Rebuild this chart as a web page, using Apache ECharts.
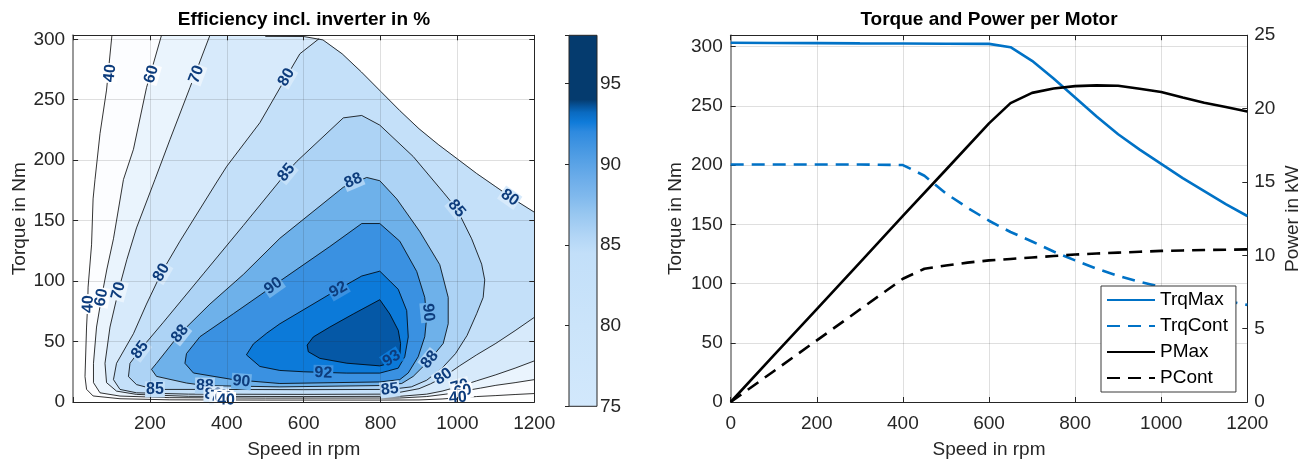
<!DOCTYPE html>
<html><head><meta charset="utf-8">
<script src="https://cdn.jsdelivr.net/npm/echarts@6/dist/echarts.min.js"></script>
<style>html,body{margin:0;padding:0;background:#fff}#c{width:1314px;height:464px}</style>
</head><body><div id="c"></div>
<script>
// ================= DATA =================
// Right chart: torque / power per motor
const speedEnv = [0,100,200,300,400,500,600,650,700,750,800,850,900,950,1000,1050,1100,1150,1200];
const trqMax   = [303.2,303.0,302.9,302.7,302.6,302.4,302.3,299.5,288,273,257,241,226,213,201,189,178,167,157];
const pMax     = [0,3.17,6.33,9.5,12.68,15.83,18.99,20.37,21.07,21.37,21.53,21.58,21.55,21.35,21.13,20.75,20.4,20.1,19.8];
const speedCont = [0,100,200,300,400,450,500,550,600,650,700,750,800,850,900,950,1000,1050,1100,1150,1200];
const trqCont   = [200.5,200.5,200.5,200.5,200,191,176,164,153,143.5,135.5,127,119.5,112.5,106.5,101.5,97,93,89,85.5,82];
const pCont     = [0,2.1,4.2,6.3,8.4,9.08,9.3,9.5,9.65,9.75,9.85,9.95,10.05,10.12,10.18,10.24,10.3,10.33,10.36,10.38,10.4];
const seriesNames = ['TrqMax','TrqCont','PMax','PCont'];

// Left chart: efficiency contour lines [speed rpm, torque Nm]
const levels = [40,60,70,80,85,88,90,92,93];
const line40 = [[101,303.3],[87,258],[70,222],[57,184],[52,168],[48,130],[39,95],[38,81],[35,62],[31,21],[35,10.5],[52,5],[122,2.7],[250,1.8],[500,1.6],[800,1.6],[900,1.7],[960,2.5],[1001,3.5],[1050,4.5],[1100,5.3],[1150,6.2],[1200,7]];
const line60 = [[230,303.3],[191,260],[157,209],[131,184],[105,135],[88,110],[74,86.5],[61,62],[53,32],[53,16],[70,7.6],[122,4.9],[250,3.6],[500,3.2],[850,3.3],[920,4.5],[970,6.5],[1014,9],[1060,11.5],[1100,13.8],[1150,16],[1200,18.5]];
const line70 = [[356,303.3],[304,260],[252,217],[213,184],[165,144],[140,118],[118,92],[96,62],[83,32],[87,16],[113,9],[165,6.3],[300,4.7],[600,4.5],[850,4.7],[920,6.5],[960,9],[1006,13],[1050,17.5],[1100,22.5],[1150,28],[1200,34]];
const line80 = [[640,300.5],[590,288],[555,269],[486,231],[400,195],[374,182],[278,133],[230,107],[191,81],[157,56.5],[113,32],[105,18.5],[122,10.4],[165,7.6],[300,6.5],[600,6.3],[800,6.5],[850,8],[900,11],[930,15],[963,20.5],[1006,30],[1050,39],[1100,48.5],[1150,59],[1200,70]];
const line85 = [[144,21],[148,32],[174,43],[235,66],[339,106],[443,146],[556,190],[582,199],[703,235],[751,237],[798,229],[885,203],[963,173.5],[998,160],[1037,135],[1063,114],[1071,101],[1067,86.5],[1050,73],[1025,55],[995,40],[960,28],[920,18],[880,12.5],[824,10.4],[600,10.2],[343,10.4],[213,10.4],[165,14.4],[144,21]];
const line88 = [[204,27],[217,32],[278,56.5],[356,81],[443,105.5],[538,135.4],[703,177.6],[764,185.7],[798,183],[842,168],[902,141],[954,113.6],[976,86.5],[976,64.7],[963,48.4],[928,34.8],[885,21.2],[855,15.3],[798,13.6],[538,12.5],[343,13.6],[295,15.7],[217,21.2],[204,27]];
const line90 = [[291,32],[295,40],[330,54],[417,73],[521,96],[538,100],[668,128.6],[751,147.6],[798,147.6],[850,133],[894,108],[915,86.5],[920,70],[915,54],[898,37.5],[872,24],[850,18.5],[798,16.6],[538,15.3],[417,18.5],[313,24],[291,32]];
const line92 = [[451,39],[469,48],[504,57],[538,64.7],[668,89.2],[751,104.2],[798,108.2],[846,93.2],[868,75.6],[872,53.8],[863,37.5],[846,28],[798,23.9],[712,23.9],[600,25],[538,26.1],[486,29.4],[451,39]];
const line93 = [[798,84.6],[824,72.8],[846,59.3],[852,48.4],[850,37.5],[824,32.1],[798,29.9],[712,32.1],[642,36.1],[612,41.6],[609,47.1],[625,53.8],[668,62],[729,72.8],[798,84.6]];
// contour labels: [speed, torque, level]
const contourLabels = [
  [96,272,40],[204,271,60],[321,271,70],[555,268.6,80],[555,189.8,85],[729,183,88],
  [998,160,85],[1136,169,80],[690,93,92],[924,74,90],[928,35,88],[829,36,93],[651,24,92],
  [824,10.4,85],[963,21,80],[1006,13,70],[1014,9,60],[1001,3.5,40],
  [39.5,81,40],[74,86.5,60],[118,92,70],[230,107,80],[174,43,85],[278,56.5,88],[521,96,90],
  [213,10.4,85],[343,13.6,88],[438,17,90],[365,6.4,80],[380,4.6,70],[392,3.3,60],[398,1.6,40]
];
// colour bar scale
const cbMin = 75, cbMax = 98;
const cbStopValues = [75,80,84.5,85.5,87,88,89,90,91,92,92.6,93.2,93.6,94,98];

// ================= STYLE =================
const fillColors = ['#fcfdff','#eaf4fd','#d7eafb','#c4e0f9','#add3f5','#6eb1ea','#3a91e1','#0c7ad9','#0558a6'];
const cbStopColors = ['#d2e8fc','#cbe4fa','#c2dff9','#b3d6f6','#96c6f0','#80b9ed','#6eaeea','#5aa3e6','#4597e2','#2e8adf','#0f7bd9','#0a6ac0','#06539a','#053b6e','#053b6e'];
const FONT = "'Liberation Sans', Arial, Helvetica, sans-serif";
const TXT = '#262626';
const GRIDC = 'rgba(38,38,38,0.15)';
const BLUE = '#0072c6';
const yMaxEff = 303.3;

const openLines = {40: line40, 60: line60, 70: line70, 80: line80};
const closedLines = {85: line85, 88: line88, 90: line90, 92: line92, 93: line93};
const envPts = speedEnv.map((s, i) => [s, trqMax[i]]);
const envLine = envPts.filter(p => p[0] >= 500);

function regionPolygon(level) {
  if (closedLines[level]) return closedLines[level];
  const ln = openLines[level];
  const s0 = ln[0][0];
  return ln.concat(envPts.filter(p => p[0] > s0).reverse());
}
const regionPolys = levels.map(regionPolygon);
const strokeLines = [line40, line60, line70, line80, envLine, line85, line88, line90, line92, line93];
function linesForLevel(l) {
  if (l === 80) return [line80, envLine];
  return [openLines[l] || closedLines[l]];
}
function labelRotation(level, P, api) {
  let best = Infinity, ang = 0;
  linesForLevel(level).forEach(ln => {
    for (let i = 0; i < ln.length - 1; i++) {
      const A = api.coord(ln[i]), B = api.coord(ln[i + 1]);
      const dx = B[0] - A[0], dy = B[1] - A[1];
      const L2 = dx * dx + dy * dy || 1e-9;
      let t = ((P[0] - A[0]) * dx + (P[1] - A[1]) * dy) / L2;
      t = Math.max(0, Math.min(1, t));
      const qx = A[0] + t * dx - P[0], qy = A[1] + t * dy - P[1];
      const d = qx * qx + qy * qy;
      if (d < best) { best = d; ang = Math.atan2(dy, dx); }
    }
  });
  let r = -ang;
  while (r > Math.PI / 2 + 1e-6) r -= Math.PI;
  while (r < -Math.PI / 2 + 1e-6) r += Math.PI;
  return r;
}

const tickLabel = {color: TXT, fontSize: 19, fontFamily: FONT};
const nameStyle = {color: TXT, fontSize: 19, fontFamily: FONT};
function fmt50(v) { return (Math.abs(v % 50) < 1e-9) ? String(v) : ''; }

const chart = echarts.init(document.getElementById('c'), null, {renderer: 'canvas'});
const option = {
  animation: false,
  backgroundColor: '#ffffff',
  graphic: [
    {type: 'text', x: 304, y: 20, style: {text: 'Efficiency incl. inverter in %', font: 'bold 19px ' + FONT, fill: '#000', align: 'center', verticalAlign: 'middle'}},
    {type: 'text', x: 989, y: 20, style: {text: 'Torque and Power per Motor', font: 'bold 19px ' + FONT, fill: '#000', align: 'center', verticalAlign: 'middle'}}
  ],
  grid: [
    {left: 73.1, top: 35.3, width: 461.2, height: 370.7},
    {left: 569, top: 35.3, width: 28, height: 371},
    {left: 730.7, top: 35.2, width: 516.6, height: 370.8}
  ],
  legend: {
    orient: 'vertical', left: 1101, top: 286,
    data: seriesNames,
    itemWidth: 48, itemHeight: 14, itemGap: 6,
    padding: [4, 8, 4, 5],
    itemStyle: {color: 'rgba(0,0,0,0)', borderColor: 'rgba(0,0,0,0)', borderWidth: 0, opacity: 0},
    backgroundColor: '#ffffff', borderColor: '#3a3a3a', borderWidth: 1, borderRadius: 0,
    textStyle: {color: '#000', fontSize: 19, fontFamily: FONT, lineHeight: 20}
  },
  xAxis: [
    {gridIndex: 0, type: 'value', min: 0, max: 1200, interval: 200, position: 'bottom', z: 5,
     axisLine: {show: true, onZero: false, lineStyle: {color: TXT, width: 1}},
     axisTick: {show: true, inside: true, length: 5, lineStyle: {color: TXT}},
     axisLabel: Object.assign({margin: 12, formatter: v => v === 0 ? '' : String(v)}, tickLabel),
     splitLine: {show: true, lineStyle: {color: GRIDC, width: 1}},
     name: 'Speed in rpm', nameLocation: 'middle', nameGap: 38, nameTextStyle: nameStyle},
    {gridIndex: 0, type: 'value', min: 0, max: 1200, interval: 200, position: 'top', z: 5,
     axisLine: {show: true, onZero: false, lineStyle: {color: TXT, width: 1}},
     axisTick: {show: true, inside: true, length: 5, lineStyle: {color: TXT}},
     axisLabel: {show: false}, splitLine: {show: false}},
    {gridIndex: 1, type: 'value', min: 0, max: 1, show: false},
    {gridIndex: 2, type: 'value', min: 0, max: 1200, interval: 200, position: 'bottom',
     axisLine: {show: true, onZero: false, lineStyle: {color: TXT, width: 1}},
     axisTick: {show: true, inside: true, length: 5, lineStyle: {color: TXT}},
     axisLabel: Object.assign({margin: 12, formatter: v => String(v)}, tickLabel),
     splitLine: {show: true, lineStyle: {color: GRIDC, width: 1}},
     name: 'Speed in rpm', nameLocation: 'middle', nameGap: 38, nameTextStyle: nameStyle},
    {gridIndex: 2, type: 'value', min: 0, max: 1200, interval: 200, position: 'top',
     axisLine: {show: true, onZero: false, lineStyle: {color: TXT, width: 1}},
     axisTick: {show: true, inside: true, length: 5, lineStyle: {color: TXT}},
     axisLabel: {show: false}, splitLine: {show: false}}
  ],
  yAxis: [
    {gridIndex: 0, type: 'value', min: 0, max: yMaxEff, interval: 50, position: 'left', z: 5,
     axisLine: {show: true, onZero: false, lineStyle: {color: '#999999', width: 2}},
     axisTick: {show: true, inside: true, length: 5, lineStyle: {color: TXT}},
     axisLabel: Object.assign({margin: 8, formatter: fmt50}, tickLabel),
     splitLine: {show: true, lineStyle: {color: GRIDC, width: 1}},
     name: 'Torque in Nm', nameLocation: 'middle', nameGap: 44, nameTextStyle: nameStyle},
    {gridIndex: 0, type: 'value', min: 0, max: yMaxEff, interval: 50, position: 'right', z: 5,
     axisLine: {show: true, onZero: false, lineStyle: {color: TXT, width: 1}},
     axisTick: {show: true, inside: true, length: 5, lineStyle: {color: TXT}},
     axisLabel: {show: false}, splitLine: {show: false}},
    {gridIndex: 1, type: 'value', min: cbMin, max: cbMax, interval: 5, position: 'right', z: 5,
     axisLine: {show: false},
     axisTick: {show: true, inside: true, length: 4, lineStyle: {color: TXT}},
     axisLabel: Object.assign({margin: 3, formatter: v => (v % 5 === 0 ? String(v) : '')}, tickLabel),
     splitLine: {show: false}},
    {gridIndex: 2, type: 'value', min: 0, max: 309.6, interval: 50, position: 'left',
     axisLine: {show: true, onZero: false, lineStyle: {color: '#999999', width: 2}},
     axisTick: {show: true, inside: true, length: 5, lineStyle: {color: TXT}},
     axisLabel: Object.assign({margin: 8, formatter: fmt50}, tickLabel),
     splitLine: {show: true, lineStyle: {color: GRIDC, width: 1}},
     name: 'Torque in Nm', nameLocation: 'middle', nameGap: 45, nameTextStyle: nameStyle},
    {gridIndex: 2, type: 'value', min: 0, max: 25, interval: 5, position: 'right',
     axisLine: {show: true, onZero: false, lineStyle: {color: TXT, width: 1}},
     axisTick: {show: true, inside: true, length: 5, lineStyle: {color: TXT}},
     axisLabel: Object.assign({margin: 7}, tickLabel),
     splitLine: {show: false},
     name: 'Power in kW', nameLocation: 'middle', nameGap: 36, nameTextStyle: nameStyle}
  ],
  series: [
    // filled efficiency regions
    {type: 'custom', xAxisIndex: 0, yAxisIndex: 0, z: 1, silent: true,
     data: regionPolys.map((p, i) => [i, 0]),
     renderItem: function (params, api) {
       const poly = regionPolys[params.dataIndex];
       return {type: 'polygon', shape: {points: poly.map(p => api.coord(p))},
               style: {fill: fillColors[params.dataIndex], stroke: fillColors[params.dataIndex], lineWidth: 0.3}};
     }},
    // contour lines
    {type: 'custom', xAxisIndex: 0, yAxisIndex: 0, z: 2, silent: true,
     data: strokeLines.map((p, i) => [i, 0]),
     renderItem: function (params, api) {
       const ln = strokeLines[params.dataIndex];
       return {type: 'polyline', shape: {points: ln.map(p => api.coord(p))},
               style: {stroke: '#000', lineWidth: 0.8, fill: null}};
     }},
    // contour labels
    {type: 'custom', xAxisIndex: 0, yAxisIndex: 0, z: 3, silent: true,
     data: contourLabels.map(l => [l[0], l[1]]),
     renderItem: function (params, api) {
       const lab = contourLabels[params.dataIndex];
       const P = api.coord([lab[0], lab[1]]);
       const li = levels.indexOf(lab[2]);
       return {type: 'text', x: P[0], y: P[1], rotation: labelRotation(lab[2], P, api),
               style: {text: String(lab[2]), fill: '#0d3c7c', font: 'bold 16px ' + FONT,
                       align: 'center', verticalAlign: 'middle',
                       backgroundColor: li === 0 ? '#ffffff' : fillColors[li - 1], padding: [0, 1, 0, 1]}};
     }},
    // colour bar
    {type: 'custom', xAxisIndex: 2, yAxisIndex: 2, silent: true,
     data: [[0.5, cbMin]],
     renderItem: function (params, api) {
       const a = api.coord([0, cbMax]), b = api.coord([1, cbMin]);
       const stops = cbStopValues.map((v, i) => ({offset: (v - cbMin) / (cbMax - cbMin), color: cbStopColors[i]}));
       return {type: 'rect', shape: {x: a[0], y: a[1], width: b[0] - a[0], height: b[1] - a[1]},
               style: {fill: new echarts.graphic.LinearGradient(0, 1, 0, 0, stops), stroke: TXT, lineWidth: 1}};
     }},
    // right chart lines
    {name: 'TrqMax', type: 'line', xAxisIndex: 3, yAxisIndex: 3, symbol: 'none',
     data: speedEnv.map((s, i) => [s, trqMax[i]]), lineStyle: {color: BLUE, width: 2.6}, itemStyle: {color: BLUE}},
    {name: 'TrqCont', type: 'line', xAxisIndex: 3, yAxisIndex: 3, symbol: 'none',
     data: speedCont.map((s, i) => [s, trqCont[i]]), lineStyle: {color: BLUE, width: 2.6, type: [13, 8]}, itemStyle: {color: BLUE}},
    {name: 'PMax', type: 'line', xAxisIndex: 3, yAxisIndex: 4, symbol: 'none',
     data: speedEnv.map((s, i) => [s, pMax[i]]), lineStyle: {color: '#000', width: 2.6}, itemStyle: {color: '#000'}},
    {name: 'PCont', type: 'line', xAxisIndex: 3, yAxisIndex: 4, symbol: 'none',
     data: speedCont.map((s, i) => [s, pCont[i]]), lineStyle: {color: '#000', width: 2.6, type: [13, 8]}, itemStyle: {color: '#000'}}
  ]
};
chart.setOption(option);
</script>
</body></html>
